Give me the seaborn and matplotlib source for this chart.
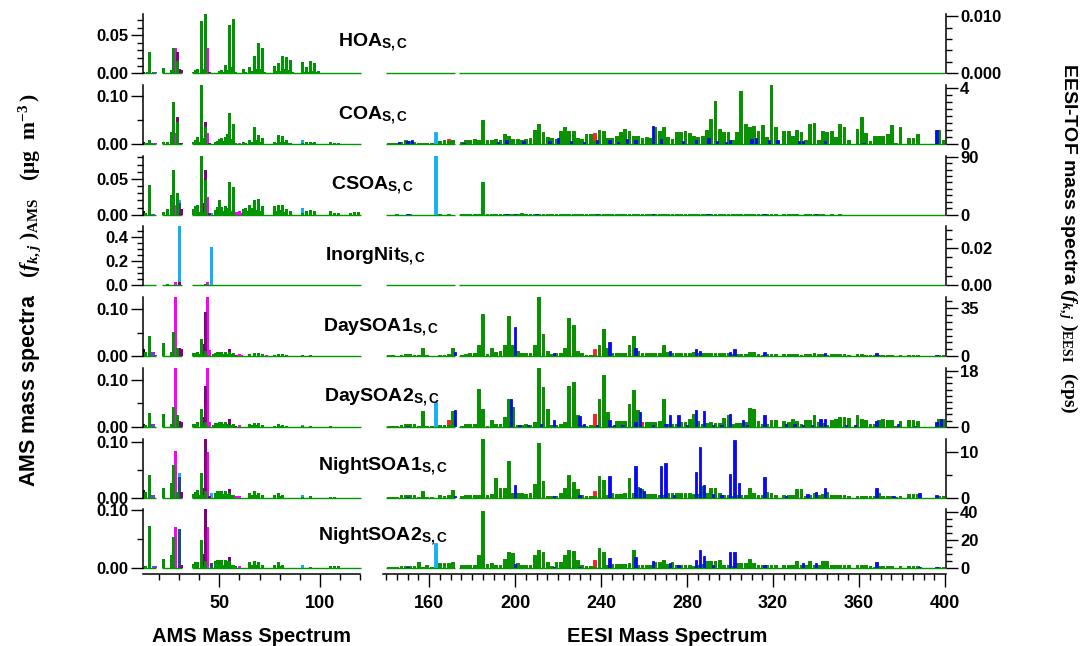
import numpy as np
import matplotlib
matplotlib.use("Agg")
import matplotlib.pyplot as plt
from matplotlib.ticker import MultipleLocator, FixedLocator, FormatStrFormatter
import seaborn as sns

# ---------------------------------------------------------------- data
FACTORS = ["HOA", "COA", "CSOA", "InorgNit", "DaySOA1", "DaySOA2", "NightSOA1", "NightSOA2"]

# AMS family columns: CH, CHO1, CHOgt1, CHN, NO, HO, Cx  (rows: m/z, values...)
HOA_AMS = [
    (12, 0, 0, 0, 0, 0, 0, .002), (13, .001), (14, .002), (15, .028), (16, 0, 0, 0, 0, 0, .001),
    (17, 0, 0, 0, 0, 0, .002), (18, 0, 0, 0, 0, 0, .002), (22, .007), (26, .004), (27, .033),
    (28, 0, 0, .033), (29, .016, .012), (30, 0, .005), (31, 0, .004), (37, .002), (38, .004),
    (39, .006), (40, .001), (41, .069), (42, .005), (43, .078), (44, 0, 0, .033), (45, 0, .002),
    (50, .003), (51, .004), (52, .002), (53, .011), (54, .004), (55, .063), (56, .008), (57, .071),
    (58, .002), (59, 0, .001), (60, 0, 0, .001), (62, .006), (63, .002), (65, .008), (66, .003),
    (67, .023), (68, .006), (69, .040), (70, .005), (71, .033), (72, .002), (73, .001), (77, .010),
    (78, .003), (79, .014), (80, .003), (81, .023), (82, .006), (83, .022), (84, .004), (85, .017),
    (86, .002), (91, .015), (92, .002), (93, .008), (94, .002), (95, .016), (96, .003), (97, .014),
    (98, .002), (99, .003), (105, .001), (107, .001), (109, .001), (111, .001), (113, .001),
]
COA_AMS = [
    (12, 0, 0, 0, 0, 0, 0, .004), (13, .002), (14, .002), (15, .009), (16, 0, 0, 0, 0, 0, .002),
    (17, 0, 0, 0, 0, 0, .002), (18, 0, 0, 0, 0, 0, .002), (22, .004), (24, .004), (26, .026),
    (27, .088), (28, 0, 0, .022), (29, .047, .010), (30, 0, .003), (31, 0, .002), (37, .005),
    (38, .008), (39, .014), (40, .004), (41, .123), (42, .012), (43, .035, .012), (44, 0, 0, .022),
    (45, 0, .002), (48, .004), (49, .006), (50, .010), (51, .012), (52, .006), (53, .015), (54, .020),
    (55, .064), (56, .010), (57, .042), (58, .002), (59, 0, .001), (60, 0, 0, .002), (62, .004),
    (63, .003), (65, .008), (66, .004), (67, .036), (68, .008), (69, .018), (70, .004), (71, .012),
    (72, .001), (77, .005), (78, .002), (79, .019), (80, .004), (81, .016), (82, .005), (83, .008),
    (84, .002), (85, .003), (91, .002, 0, 0, 0, .006), (93, .005), (95, .005), (96, .002), (97, .004),
    (105, .004), (107, .002), (109, .003), (115, .001), (117, .001), (119, .001),
]
CSOA_AMS = [
    (12, 0, 0, 0, 0, 0, 0, .005), (13, .003), (15, .041), (16, 0, 0, 0, 0, 0, .001),
    (17, 0, 0, 0, 0, 0, .001), (22, .004), (24, .008), (26, .027), (27, .062), (28, 0, 0, .013),
    (29, .030), (30, 0, .002, 0, .015, .003), (31, 0, .008), (37, .008), (38, .012), (39, .013),
    (40, .004), (41, .082), (42, .004, .013), (43, .048, .014), (44, 0, 0, .025), (45, 0, .002),
    (46, 0, 0, 0, 0, .003), (48, .006), (49, .011), (50, .020), (51, .011), (52, .005), (53, .012),
    (54, .010), (55, .045), (56, .005), (57, .039), (58, 0, 0, .004), (59, 0, 0, .004),
    (60, 0, 0, .005), (61, 0, 0, .003), (62, .008), (63, .010), (64, .005), (65, .013), (66, .010),
    (67, .020), (68, .006), (69, .022), (70, .005), (71, .012), (77, .012), (78, .005), (79, .013),
    (80, .006), (81, .013), (82, .004), (83, .008), (85, .005), (91, .002, 0, 0, 0, .008), (93, .005),
    (95, .006), (97, .005), (105, .005), (107, .003), (109, .002), (115, .002), (117, .004), (119, .004),
]
INORGNIT_AMS = [
    (15, .001), (16, 0, 0, 0, 0, 0, .001), (18, 0, 0, 0, 0, 0, .001), (24, .011), (27, .003),
    (28, 0, 0, .027), (30, 0, .030, 0, 0, .458), (41, .005), (43, .008), (44, 0, 0, .027),
    (46, 0, 0, 0, 0, .318), (55, .002), (57, .002),
]
DAYSOA1_AMS = [
    (12, 0, 0, 0, 0, 0, 0, .015), (13, .008), (15, .043), (16, 0, 0, 0, 0, 0, .008),
    (17, 0, 0, 0, 0, 0, .008), (18, 0, 0, 0, 0, 0, .003), (22, .028), (26, .009), (27, .052),
    (28, 0, 0, .140), (29, .018), (30, 0, .018), (31, 0, .015), (37, .006), (38, .007), (39, .009),
    (40, .004), (41, .036), (42, .004, .022), (43, .010, .084), (44, 0, 0, .140), (45, 0, 0, .013),
    (47, .004), (48, .006), (49, .008), (50, .008), (51, .009), (52, .005), (53, .009), (54, .004),
    (55, .008, .008), (56, .004), (57, .006), (58, 0, .003), (59, 0, 0, .003), (60, 0, 0, .004),
    (61, 0, 0, .002), (65, .004), (67, .006), (69, .007), (71, .004), (73, 0, 0, .002), (77, .003),
    (79, .005), (81, .004), (83, .003), (91, .002), (95, .002), (105, .001),
]
DAYSOA2_AMS = [
    (12, 0, 0, 0, 0, 0, 0, .006), (13, .004), (15, .030), (16, 0, 0, 0, 0, 0, .005),
    (17, 0, 0, 0, 0, 0, .005), (22, .028), (26, .006), (27, .041), (28, 0, 0, .140), (29, .025),
    (30, 0, .012), (31, 0, .010), (37, .006), (38, .006), (39, .010), (41, .037), (42, .004, .016),
    (43, .010, .077), (44, 0, 0, .140), (45, 0, 0, .010), (47, .004), (48, .008), (49, .009),
    (50, .010), (51, .010), (52, .005), (53, .010), (54, .005), (55, .004, .012), (56, .004),
    (57, .005), (58, 0, .002), (60, 0, 0, .003), (65, .006), (66, .004), (67, .007), (68, .004),
    (69, .007), (71, .004), (77, .002), (79, .006), (80, .002), (81, .004), (83, .002),
    (91, .001, 0, 0, 0, .002), (95, .002), (105, .001),
]
NIGHTSOA1_AMS = [
    (12, 0, 0, 0, 0, 0, 0, .013), (13, .010), (15, .041), (16, 0, 0, 0, 0, 0, .004),
    (17, 0, 0, 0, 0, 0, .004), (22, .018), (26, .027), (27, .059), (28, 0, 0, .084), (29, .010),
    (30, 0, 0, 0, .038, .007), (31, 0, .010), (37, .007), (38, .010), (39, .013), (40, .004),
    (41, .044), (42, .004, .014), (43, .012, .095), (44, 0, 0, .083), (45, 0, .002),
    (46, 0, 0, 0, 0, .009), (48, .008), (49, .011), (50, .012), (51, .012), (52, .006), (53, .011),
    (54, .006), (55, .008, .008), (56, .004), (57, .004), (58, 0, 0, .002), (59, 0, 0, .002),
    (60, 0, 0, .002), (65, .008), (66, .004), (67, .012), (68, .004), (69, .008), (71, .004),
    (77, .004), (79, .009), (80, .003), (81, .004), (91, .001, 0, 0, 0, .003), (95, .002),
    (105, .001), (107, .001),
]
NIGHTSOA2_AMS = [
    (13, .003), (15, .073), (17, 0, 0, 0, 0, 0, .004), (18, 0, 0, 0, 0, 0, .004), (22, .016),
    (26, .023), (27, .054), (28, 0, 0, .071), (30, 0, 0, 0, .067), (31, 0, .006), (37, .008),
    (38, .010), (39, .011), (41, .049), (42, .004, .021), (43, .012, .090), (44, 0, 0, .071),
    (46, 0, 0, 0, .009), (48, .012), (49, .014), (50, .014), (51, .014), (52, .006), (53, .014),
    (54, .012), (55, .012, .008), (56, .005), (57, .005), (58, .004), (60, 0, 0, .003), (65, .011),
    (66, .005), (67, .012), (68, .006), (69, .011), (71, .005), (77, .006), (79, .010), (80, .004),
    (81, .006), (91, .001, 0, 0, 0, .004), (95, .002), (105, .004), (107, .004), (109, .004),
]

# EESI CxHyOz ions (odd m/z 141..399), cps
HOA_EESI = [0.0] * 130
INORGNIT_EESI = [0.0] * 130
COA_EESI = [
    .05, .10, .10, .15, .30, .25, .15, .10, .10, .05,
    .05, 0, .25, .30, .20, .30, 0, .15, .30, .30,
    .35, .30, 1.75, .30, .30, .35, .30, .70, .60, .35,
    .35, .30, .35, .45, 1.0, 1.45, .85, .50, .40, .35,
    .90, 1.25, .95, .90, .40, .35, .68, .70, .20, 1.0,
    .95, .45, .45, .55, .85, 1.10, .95, .60, .60, .45,
    .50, .45, 1.20, .95, 1.20, .50, .35, .85, .85, .90,
    .80, .55, .50, .55, 1.0, 1.80, 3.05, 1.05, .85, .85,
    .30, .85, 3.80, 1.45, 1.20, 1.30, .95, 1.35, .50, 4.20,
    1.20, 0, .95, .95, .60, 1.0, .85, .30, 1.40, 1.50,
    .30, .90, .85, .95, .50, 1.40, 1.20, .30, 0, 1.10,
    1.95, .80, .20, .60, .60, .60, .70, 1.35, .05, 1.25,
    0, .40, .45, .70, 0, 0, 0, 0, 1.0, .30,
]
CSOA_EESI = [
    .2, .3, .5, .3, .3, .4, .3, .3, .2, .3,
    .2, 0, .5, .3, .4, .3, 0, .5, .5, .5,
    .6, .8, 50.8, 1.5, 1.0, .6, .5, 1.2, .8, .6,
    .6, 2.0, 1.5, 1.0, 1.5, .8, .6, .5, .5, .8,
    1.0, .8, .6, .8, 1.5, .8, .5, .5, .4, .6,
    .8, .8, .6, .8, .6, .5, .6, .8, .6, .5,
    .6, .8, .5, .6, .6, .5, .6, .6, .5, .5,
    .5, .5, .6, .5, .5, 1.5, .6, .5, .5, .5,
    .4, .5, .4, .5, .4, .4, .5, .4, .4, .4,
    .4, 0, .4, .4, .5, .4, .3, .4, .4, .4,
    .4, .4, .3, .4, .3, .4, .3, .3, 0, .3,
    .3, .3, .2, .3, .3, .3, .3, .3, .1, .3,
    0, .3, .3, .3, 0, 0, 0, 0, .3, .2,
]
DAYSOA1_EESI = [
    .5, .5, .4, 1.0, 1.2, 1.2, 1.0, .5, 6.0, .5,
    .3, 0, 1.0, 1.0, 1.2, 6.0, 0, .8, 1.5, 2.0,
    2.0, 8.0, 31.0, 1.5, 6.0, 3.0, 4.0, 8.0, 29.0, 8.0,
    4.0, 2.0, 2.0, 2.0, 8.0, 44.0, 16.0, 4.0, 1.5, 2.0,
    2.0, 6.0, 28.0, 23.0, 4.0, 2.0, 1.0, 1.0, 1.0, 8.0,
    20.0, 6.0, 2.0, 2.0, 2.0, 2.0, 8.0, 15.0, 4.0, 2.0,
    2.0, 2.0, 2.0, 2.0, 8.0, 3.0, 2.0, 2.0, 2.0, 2.0,
    2.0, 3.0, 2.0, 2.0, 2.0, 2.0, 2.0, 2.0, 2.0, 2.0,
    1.5, 1.5, 1.5, 1.5, 3.0, 3.0, 1.5, 1.0, 1.5, 1.5,
    1.5, 0, 1.5, 1.5, 1.5, 1.5, 1.0, 1.5, 1.5, 2.0,
    1.5, 1.5, 1.0, 1.5, 1.5, 1.5, 1.5, 1.0, 0, 1.5,
    1.5, 1.0, .5, 1.0, 1.0, 1.0, 1.0, 1.0, .1, 1.0,
    0, 1.0, 1.0, 1.0, 0, 0, 0, 0, 1.0, 1.0,
]
DAYSOA2_EESI = [
    .3, .3, .2, .5, .85, .85, .85, .3, 5.0, .3,
    .1, 0, .6, .5, .5, 5.0, 0, .3, .8, 1.0,
    1.0, 12.2, 5.6, .4, 2.3, .8, 1.0, 3.0, 8.8, 6.4,
    .7, .7, 1.0, .5, 1.5, 18.9, 12.9, 5.8, .5, .6,
    1.0, 1.5, 13.2, 14.3, 3.7, .5, .3, .5, .3, 9.0,
    16.7, 4.8, .3, 1.8, 1.8, 2.0, 7.4, 11.9, 5.5, .4,
    1.5, 1.5, 1.6, 1.8, 8.8, 1.0, 1.0, .8, 1.5, 1.6,
    2.5, 4.2, 1.8, 1.0, 1.2, 1.5, 1.3, 1.2, 2.7, 3.7,
    1.0, 1.3, 1.3, 1.4, 6.1, 5.6, 1.9, .8, 1.0, 2.1,
    2.1, 0, 2.0, 1.5, 2.5, 1.8, .8, 2.1, 2.1, 3.7,
    1.5, 1.2, .5, 2.1, 2.5, 3.0, 3.2, 2.8, 0, 3.7,
    2.5, 2.1, 1.0, 1.0, 2.2, 2.4, 2.3, 2.2, .1, 2.0,
    0, 2.3, 2.3, 2.0, 0, 0, 0, 0, 2.6, 2.4,
]
NIGHTSOA1_EESI = [
    .15, .15, .10, .6, .6, .6, .5, .2, 1.5, .2,
    .1, 0, .5, .4, .5, 1.6, 0, .3, .5, .5,
    .5, .6, 12.9, .5, .8, 4.3, 2.0, 2.0, 8.0, 1.0,
    1.1, 1.1, .8, 1.1, 3.0, 12.1, 3.7, .4, .4, .4,
    1.0, 2.1, 5.1, 3.4, 1.8, .5, .3, .3, .3, 4.8,
    3.8, .5, .9, .7, .7, 1.0, 4.3, 1.0, 2.4, 1.8,
    .7, .7, .7, .5, .5, 1.1, 1.1, 1.1, 1.0, 1.1,
    1.1, .8, .8, 2.6, 1.1, 2.2, 2.2, 1.0, .6, .6,
    .4, .5, .5, .6, 2.0, 1.0, .5, .5, 1.2, 1.0,
    .5, 0, .6, .6, .5, 1.8, 1.8, .3, .5, 1.0,
    .6, .8, 1.3, .5, .5, .5, .5, .4, 0, .4,
    .4, .4, .3, .3, .9, .3, .3, .3, .1, .3,
    0, .7, .7, .7, 0, 0, 0, 0, .4, .4,
]
NIGHTSOA2_EESI = [
    .7, .7, .5, 1.4, 1.4, 1.4, 1.4, 4.3, 1.0, 2.6,
    .5, 0, 3.6, 3.6, 3.6, 4.3, 0, 2.4, 2.4, 2.4,
    2.4, 9.6, 41.0, 3.1, 3.6, 2.5, 2.5, 6.7, 11.5, 10.8,
    3.6, 2.6, 2.6, 2.6, 9.6, 13.2, 11.5, 4.3, 1.5, 4.3,
    4.3, 9.1, 13.2, 12.2, 5.5, 2.0, 1.5, 1.5, .5, 14.4,
    11.5, 2.0, 3.1, 3.1, 3.1, 3.1, 3.6, 12.7, 2.6, 2.4,
    2.4, 2.4, 4.3, 4.3, 5.5, 3.0, 4.3, 2.5, 2.5, 2.4,
    2.4, 1.5, 2.0, 3.0, 4.9, 4.9, 4.9, 6.1, 2.0, 2.0,
    1.5, 3.7, 3.7, 3.7, 6.6, 3.7, 2.4, 2.4, 2.4, 2.4,
    2.4, 0, 2.4, 2.4, 2.4, 4.9, 2.4, 2.0, 4.9, 2.0,
    2.0, 4.9, 4.9, 2.5, 2.5, 2.5, 2.5, 2.5, 0, 2.5,
    2.5, 2.5, 1.5, 1.0, 1.7, 1.7, 1.7, 1.7, .2, 1.7,
    0, 1.7, 1.7, 1.7, 0, 0, 0, 0, 1.2, 1.2,
]

# EESI nitrogen-containing ions (even m/z), cps
HOA_EESI_N = {}
INORGNIT_EESI_N = {}
COA_EESI_N = {146: .15, 150: .2, 152: .3, 176: .1, 192: .15, 196: .3, 204: .2, 216: .25, 220: .45,
              226: .2, 232: .15, 238: .3, 244: .3, 248: .15, 252: .35, 256: .3, 264: 1.3, 268: .35,
              278: .2, 284: .3, 290: .4, 294: .2, 298: .15, 300: .3, 310: .35, 312: .4, 318: .3,
              322: .3, 332: .2, 334: .2, 344: .2, 362: .1, 396: 1.0}
CSOA_EESI_N = {150: .5, 196: .6, 200: .6, 210: .6, 238: .5, 264: .6, 290: .5, 316: .4, 340: .4}
DAYSOA1_EESI_N = {172: 3.0, 200: 21.0, 218: 2.0, 244: 10.0, 256: 6.0, 272: 4.0, 284: 5.0, 286: 4.0,
                  300: 3.0, 302: 5.0, 316: 3.0, 344: 2.0, 368: 2.0, 396: 1.0}
DAYSOA2_EESI_N = {150: .3, 172: 5.3, 198: 9.0, 202: .7, 206: .5, 212: 1.0, 218: 2.1, 230: 3.4,
                  232: .8, 238: .5, 244: 2.1, 246: .5, 250: .5, 256: 1.5, 258: 4.8, 264: .5,
                  270: 1.0, 272: 3.7, 276: 3.7, 280: .5, 284: 5.3, 288: 5.2, 292: .7, 296: .5,
                  300: 4.0, 306: 2.3, 308: .5, 316: 3.7, 326: .8, 330: 1.0, 334: .5, 338: .6,
                  342: 2.6, 344: 2.4, 354: .5, 358: .5, 368: 1.8, 378: 1.0, 386: .3, 396: 1.6,
                  398: 2.6}
NIGHTSOA1_EESI_N = {150: .2, 172: .3, 200: 2.8, 218: .3, 230: .5, 244: 4.7, 256: 7.1, 258: 2.0,
                    260: 1.5, 268: 7.1, 270: 7.7, 274: .5, 284: 5.7, 286: 11.3, 288: 2.8, 292: .8,
                    296: .5, 300: 5.3, 302: 12.7, 304: 3.3, 316: 4.5, 326: .4, 336: .7, 340: 1.2,
                    344: 2.2, 368: 2.0, 376: .3, 388: .9, 396: .5}
NIGHTSOA2_EESI_N = {150: .5, 200: 3.0, 218: 1.0, 230: 1.0, 244: 7.2, 256: 7.9, 264: 5.0, 272: 4.0,
                    276: 2.0, 284: 6.2, 286: 12.7, 288: 8.6, 292: 2.0, 300: 11.8, 302: 11.5,
                    316: 2.0, 334: 3.7, 340: 3.7, 368: 4.2, 388: 1.0, 396: 1.0}

# EESI sulfur-containing ions and the m/z 163 marker ion (odd m/z)
EESI_S = {"COA": {169: .15, 237: .6}, "DaySOA1": {237: 4.0}, "DaySOA2": {169: 1.8, 237: 3.7, 259: 1.0},
          "NightSOA1": {237: 1.1}, "NightSOA2": {237: 5.0}}
EESI_163 = {"COA": {163: .85}, "CSOA": {163: 92.0}, "DaySOA2": {163: 7.9}, "NightSOA2": {163: 18.0}}

AMS_ROWS = [HOA_AMS, COA_AMS, CSOA_AMS, INORGNIT_AMS, DAYSOA1_AMS, DAYSOA2_AMS, NIGHTSOA1_AMS, NIGHTSOA2_AMS]
EESI_ODD = [HOA_EESI, COA_EESI, CSOA_EESI, INORGNIT_EESI, DAYSOA1_EESI, DAYSOA2_EESI, NIGHTSOA1_EESI, NIGHTSOA2_EESI]
EESI_EVEN = [HOA_EESI_N, COA_EESI_N, CSOA_EESI_N, INORGNIT_EESI_N, DAYSOA1_EESI_N, DAYSOA2_EESI_N,
             NIGHTSOA1_EESI_N, NIGHTSOA2_EESI_N]

# axis scales
AMS_YMAX = [0.0776, 0.1234, 0.0824, 0.488, 0.125, 0.125, 0.107, 0.102]
AMS_YTICKS = [[0, .05], [0, .1], [0, .05], [0, .2, .4], [0, .1], [0, .1], [0, .1], [0, .1]]
AMS_YMINOR = [.01, .05, .01, .05, .05, .05, .05, .05]
AMS_YFMT = ["%.2f", "%.2f", "%.2f", "%.1f", "%.2f", "%.2f", "%.2f", "%.2f"]
EESI_YMAX = [0.01035, 4.22, 91.6, 0.0317, 43.0, 19.0, 13.1, 42.1]
EESI_YTICKS = [[0, .01], [0, 4], [0, 90], [0, .02], [0, 35], [0, 18], [0, 10], [0, 20, 40]]
EESI_YMINOR = [.002, .5, 10, .005, 5, 2, 5, 5]
EESI_YFMT = ["%.3f", "%d", "%d", "%.2f", "%d", "%d", "%d", "%d"]

# ---------------------------------------------------------------- style
sns.set_theme(style="ticks")
plt.rcParams["font.family"] = ["Liberation Sans", "DejaVu Sans"]
plt.rcParams.update({
    "font.weight": "bold",
    "text.color": "black",
    "axes.labelcolor": "black",
    "mathtext.fontset": "custom",
    "mathtext.rm": "Liberation Serif",
    "mathtext.it": "Liberation Serif:italic",
    "mathtext.bf": "Liberation Sans:bold",
    "axes.edgecolor": "black",
    "axes.linewidth": 1.1,
    "xtick.color": "black",
    "ytick.color": "black",
    "xtick.labelcolor": "black",
    "ytick.labelcolor": "black",
})

AMS_COLORS = ["#009600", "#800080", "#ff00ff", "#1b4f7c", "#10b0f5", "#7a3ee0", "#000000"]
C_GREEN, C_BLUE, C_RED, C_LBLUE = "#009600", "#0a0af0", "#ff2020", "#10b0f5"

W, H = 1080, 646
fig = plt.figure(figsize=(W / 100, H / 100), dpi=100)

AMS_MZ = [m for m in range(12, 121) if m not in (19, 20, 21, 32, 33, 34, 35, 36)]
ODD_MZ = list(range(141, 400, 2))
EVEN_MZ = list(range(140, 400, 2))


def runs(values, step):
    """Contiguous stretches of an ion list, as (first, last) pairs."""
    out, start = [], values[0]
    for a, b in zip(values[:-1], values[1:]):
        if b - a > step:
            out.append((start, a))
            start = b
    out.append((start, values[-1]))
    return out


def stacked(ax, pos, layers, colors, width, lw):
    tops = np.cumsum(np.asarray(layers, dtype=float), axis=0)
    for k in range(len(layers) - 1, -1, -1):
        if k > 0 and not np.any(np.asarray(layers[k])):
            continue
        sns.barplot(x=pos, y=tops[k], orient="x", native_scale=True, color=colors[k],
                    saturation=1, width=width, errorbar=None, linewidth=lw,
                    edgecolor=colors[k], ax=ax)


def ams_layers(rows):
    table = {m: [0.0] * 7 for m in AMS_MZ}
    for r in rows:
        vals = list(r[1:]) + [0.0] * (7 - len(r) + 1)
        table[r[0]] = vals
    return np.array([table[m] for m in AMS_MZ]).T


def style_y(ax, ticks, minor, fmt, ymax, right=False):
    ax.set_ylim(0, ymax)
    ax.yaxis.set_major_locator(FixedLocator(ticks))
    ax.yaxis.set_minor_locator(MultipleLocator(minor))
    ax.yaxis.set_major_formatter(FormatStrFormatter(fmt))
    for s in ("top", "bottom", "left", "right"):
        ax.spines[s].set_visible(False)
    side = "right" if right else "left"
    ax.spines[side].set_visible(True)
    ax.spines[side].set_linewidth(1.1)
    if right:
        ax.yaxis.tick_right()
    ax.tick_params(axis="y", which="major", length=8.5, width=1.0, labelsize=12, pad=2,
                   left=not right, right=right, labelleft=not right, labelright=right)
    ax.tick_params(axis="y", which="minor", length=4.3, width=1.0,
                   left=not right, right=right)
    ax.tick_params(axis="x", which="both", bottom=False, labelbottom=False)
    ax.set_xlabel("")
    ax.set_ylabel("")


TOPS = [14.3 + 70.7 * i for i in range(8)]
PANEL_H = 59.0
AMS_X0, AMS_X1 = 142.7, 360.3
EESI_X0, EESI_X1 = 383.0, 945.6

LABEL_X = [373, 373, 372, 376, 381, 382, 383, 383]
LABEL_Y = [47, 120, 190, 261, 332, 402, 471, 541]

ams_runs = runs(AMS_MZ, 1)
eesi_runs = runs([m for m in ODD_MZ if m != 173], 2)

for i, name in enumerate(FACTORS):
    top = TOPS[i]
    base = top + PANEL_H
    y0 = 1 - base / H
    h = PANEL_H / H

    # ---- AMS panel
    ax = fig.add_axes([AMS_X0 / W, y0, (AMS_X1 - AMS_X0) / W, h])
    for a, b in ams_runs:
        ax.hlines(0, a - 0.5, b + 0.5, color=C_GREEN, lw=1.0, zorder=0.5, clip_on=False)
    layers = ams_layers(AMS_ROWS[i])
    stacked(ax, AMS_MZ, layers, AMS_COLORS, 1.0, 0.7)
    ax.set_xlim(12, 120)
    style_y(ax, AMS_YTICKS[i], AMS_YMINOR[i], AMS_YFMT[i], AMS_YMAX[i])

    # ---- EESI panel
    bx = fig.add_axes([EESI_X0 / W, y0, (EESI_X1 - EESI_X0) / W, h])
    for a, b in eesi_runs:
        bx.hlines(0, a - 1, b + 1, color=C_GREEN, lw=1.0, zorder=0.5, clip_on=False)
    odd = [EESI_ODD[i],
           [EESI_S.get(name, {}).get(m, 0.0) for m in ODD_MZ],
           [EESI_163.get(name, {}).get(m, 0.0) for m in ODD_MZ]]
    stacked(bx, ODD_MZ, odd, [C_GREEN, C_RED, C_LBLUE], 0.65, 0.6)
    even = [[EESI_EVEN[i].get(m, 0.0) for m in EVEN_MZ]]
    stacked(bx, EVEN_MZ, even, [C_BLUE], 0.55, 0.6)
    bx.set_xlim(138.6, 400.2)
    style_y(bx, EESI_YTICKS[i], EESI_YMINOR[i], EESI_YFMT[i], EESI_YMAX[i], right=True)

    fig.text(LABEL_X[i] / W, 1 - LABEL_Y[i] / H, name + r"$_{\mathbf{S,C}}$",
             ha="center", va="baseline", fontsize=14, fontweight="bold")

    if i == len(FACTORS) - 1:
        for a, major, minor in ((ax, [50, 100], 10), (bx, list(range(160, 401, 40)), 5)):
            a.spines["bottom"].set_visible(True)
            a.spines["bottom"].set_position(("outward", 4))
            a.spines["bottom"].set_linewidth(1.1)
            a.xaxis.set_major_locator(FixedLocator(major))
            a.xaxis.set_minor_locator(MultipleLocator(minor))
            a.xaxis.set_major_formatter(FormatStrFormatter("%d"))
            a.tick_params(axis="x", which="major", bottom=True, labelbottom=True,
                          length=9.5, width=1.0, labelsize=13, pad=6)
            a.tick_params(axis="x", which="minor", bottom=True, length=4.5, width=1.0)

fig.text(252 / W, 1 - 636 / H, "AMS Mass Spectrum", ha="center", va="center", fontsize=14.5)
fig.text(667 / W, 1 - 636 / H, "EESI Mass Spectrum", ha="center", va="center", fontsize=14.5)
fig.text(30 / W, 1 - 290 / H,
         r"AMS mass spectra   $(f_{k,j}\ )_{\mathrm{AMS}}$   $(\mathrm{\mu g\ \ m^{-3}}\,)$",
         rotation=90, ha="center", va="center", fontsize=15.5)
fig.text(1068 / W, 1 - 238 / H,
         r"EESI-TOF mass spectra $(f_{k,j}\ )_{\mathrm{EESI}}$  $(\mathrm{cps})$",
         rotation=270, ha="center", va="center", fontsize=14)

fig.savefig("out.png", dpi=100)
